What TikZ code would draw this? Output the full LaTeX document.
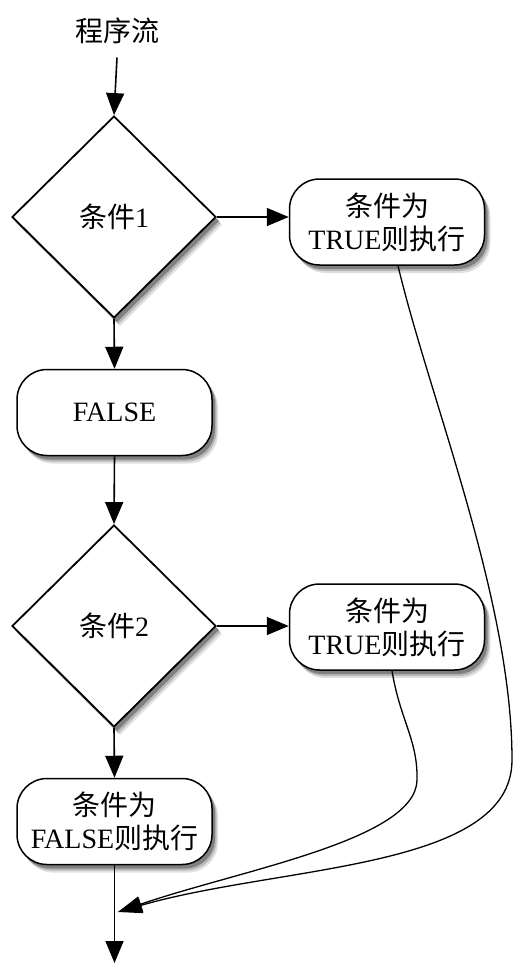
\documentclass[tikz,border=0pt]{standalone}
\usepackage{fontspec}
\setmainfont{Liberation Serif}
\newfontfamily\cjk{Noto Sans CJK SC}
\usetikzlibrary{shapes.geometric,arrows.meta}
\begin{document}
\begin{tikzpicture}[x=1pt,y=-1pt,
  txt/.style={font=\fontsize{28}{33}\selectfont, align=center},
  cond/.style={txt, shape=diamond, draw, line width=1.8pt, fill=white, minimum width=204pt, minimum height=202pt, inner sep=0pt},
  act/.style={txt, shape=rectangle, rounded corners=30pt, draw, line width=1.5pt, fill=white, minimum width=195pt, minimum height=86pt, inner sep=0pt},
  arr/.style={-{Triangle[length=22pt,width=18pt]}, line width=1.6pt},
  carr/.style={-{Triangle[length=24pt,width=16pt]}, line width=1.3pt},
  shd1/.style={fill=black!12},
  shd2/.style={fill=black!28},
  shd3/.style={fill=black!50},
]
\useasboundingbox (0,0) rectangle (514,964);
% drop shadows (drawn first, offset down-right)
\foreach \cx/\cy in {114/217, 114/626}{
  \fill[shd1] (\cx+6,\cy+8-101) -- (\cx+6+102,\cy+8) -- (\cx+6,\cy+8+101) -- (\cx+6-102,\cy+8) -- cycle;
  \fill[shd2] (\cx+4.5,\cy+6-101) -- (\cx+4.5+102,\cy+6) -- (\cx+4.5,\cy+6+101) -- (\cx+4.5-102,\cy+6) -- cycle;
  \fill[shd3] (\cx+3,\cy+4-101) -- (\cx+3+102,\cy+4) -- (\cx+3,\cy+4+101) -- (\cx+3-102,\cy+4) -- cycle;
}
\foreach \cx/\cy in {387/222, 114.5/412.5, 387/627, 114.5/821.5}{
  \fill[shd1, rounded corners=30pt] (\cx+6-97.5,\cy+8-43) rectangle (\cx+6+97.5,\cy+8+43);
  \fill[shd2, rounded corners=30pt] (\cx+4.5-97.5,\cy+6-43) rectangle (\cx+4.5+97.5,\cy+6+43);
  \fill[shd3, rounded corners=30pt] (\cx+3-97.5,\cy+4-43) rectangle (\cx+3+97.5,\cy+4+43);
}

\node[txt] (title) at (117,31) {\cjk 程序流};
\node[cond] (c1) at (114,217) {{\cjk 条件}1};
\node[act] (t1) at (387,222) {{\cjk 条件为}\\TRUE{\cjk 则执行}};
\node[act] (f1) at (114.5,412.5) {FALSE};
\node[cond] (c2) at (114,626) {{\cjk 条件}2};
\node[act] (t2) at (387,627) {{\cjk 条件为}\\TRUE{\cjk 则执行}};
\node[act] (f2) at (114.5,821.5) {{\cjk 条件为}\\FALSE{\cjk 则执行}};
\coordinate (m) at (118,912);
\coordinate (end) at (114.5,963);

\draw[arr] ([yshift=-10pt]title.south) -- (c1.north);
\draw[arr] (c1.east) -- (c1.east -| t1.west);
\draw[arr] (c1.south) -- (f1.north);
\draw[arr] (f1.south) -- (c2.north);
\draw[arr] (c2.east) -- (c2.east -| t2.west);
\draw[arr] (c2.south) -- (f2.north);
\draw[arr] (f2.south) -- (end);

\draw[carr] ([xshift=11pt]t1.south) .. controls (430,400) and (512,600) .. (512,760)
   .. controls (512,870) and (280,865) .. (m);
\draw[carr] ([xshift=5pt]t2.south) .. controls (400,720) and (418,740) .. (417,780)
   .. controls (416,840) and (240,870) .. (m);
\end{tikzpicture}
\end{document}
